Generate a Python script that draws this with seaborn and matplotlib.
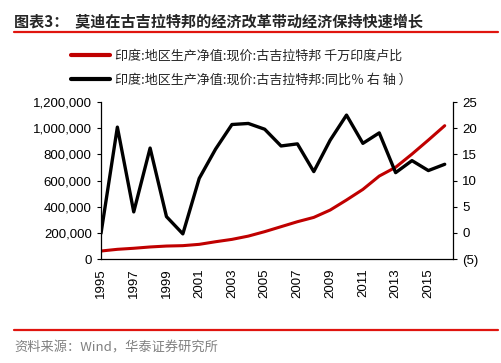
import matplotlib
matplotlib.use("Agg")
import matplotlib.pyplot as plt
import seaborn as sns
import pandas as pd
from matplotlib.lines import Line2D
from matplotlib.ticker import FuncFormatter

years = list(range(1995, 2017))
gsdp = [61000, 74000, 82000, 92000, 99000, 102000, 112000, 132000, 150000, 175000,
        209000, 247000, 285000, 318000, 374000, 451000, 532000, 634000, 701000, 802000,
        909000, 1019000]
growth = [-0.1, 20.2, 4.0, 16.2, 3.1, -0.2, 10.4, 16.0, 20.7, 20.9,
          19.8, 16.6, 17.0, 11.7, 17.7, 22.5, 17.1, 19.1, 11.5, 13.8,
          11.9, 13.1]
label_gsdp = "印度:地区生产净值:现价:古吉拉特邦 千万印度卢比"
label_growth = "印度:地区生产净值:现价:古吉拉特邦:同比％ 右 轴 ）"
title = "图表3：  莫迪在古吉拉特邦的经济改革带动经济保持快速增长"
source = "资料来源：Wind，华泰证券研究所"

sns.set_style("white")
plt.rcParams['font.family'] = ['Liberation Sans', 'Noto Sans CJK SC', 'DejaVu Sans']
cjk = ['Noto Sans CJK SC', 'DejaVu Sans']

df = pd.DataFrame({"year": years, "gsdp": gsdp, "growth": growth})

fig = plt.figure(figsize=(5.01, 3.63), dpi=100)
ax = fig.add_axes([0.2016, 0.2865, 0.7024, 0.4325])
ax2 = ax.twinx()

red = "#c00000"
sns.lineplot(data=df, x="year", y="gsdp", ax=ax, color=red, linewidth=2.2, legend=False)
sns.lineplot(data=df, x="year", y="growth", ax=ax2, color="black", linewidth=2.4, legend=False)

ax.set_xlim(1995, 2016.5)
ax.set_ylim(0, 1200000)
ax2.set_ylim(-5, 25)
ax.set_xticks(list(range(1995, 2016, 2)))
ax.set_xticklabels([str(y) for y in range(1995, 2016, 2)], rotation=90, fontsize=9.5)
ax.set_yticks(range(0, 1200001, 200000))
ax.yaxis.set_major_formatter(FuncFormatter(lambda v, p: f"{int(v):,}"))
ax2.set_yticks(range(-5, 26, 5))
ax2.yaxis.set_major_formatter(FuncFormatter(lambda v, p: f"({abs(int(v))})" if v < 0 else f"{int(v)}"))
for a in (ax, ax2):
    a.set_xlabel("")
    a.set_ylabel("")
    a.tick_params(labelsize=9.5, colors="black", length=3.2, width=0.8, direction="out")
    a.spines["top"].set_visible(False)
    for s in ("left", "right", "bottom"):
        a.spines[s].set_color("black")
        a.spines[s].set_linewidth(0.9)
ax.spines["right"].set_visible(False)
ax2.spines["left"].set_visible(False)
ax2.spines["bottom"].set_visible(False)

handles = [Line2D([], [], color=red, linewidth=3), Line2D([], [], color="black", linewidth=3)]
leg = fig.legend(handles, [label_gsdp, label_growth], loc="upper left",
                 bbox_to_anchor=(0.118, 0.897), frameon=False, handlelength=3.0,
                 handletextpad=0.4, labelspacing=0.85, prop={'family': cjk, 'size': 9.4})

fig.text(0.028, 0.942, title, fontsize=10.9, fontweight="bold", family=cjk, va="center")
fig.add_artist(Line2D([0.028, 0.995], [0.912, 0.912], color="#e0150f", linewidth=1.6, transform=fig.transFigure))
fig.add_artist(Line2D([0.028, 0.995], [0.09, 0.09], color="#e0150f", linewidth=1.6, transform=fig.transFigure))
fig.text(0.028, 0.04, source, fontsize=9.5, color="#808080", family=cjk, va="center")

fig.savefig("out.png", dpi=100)
